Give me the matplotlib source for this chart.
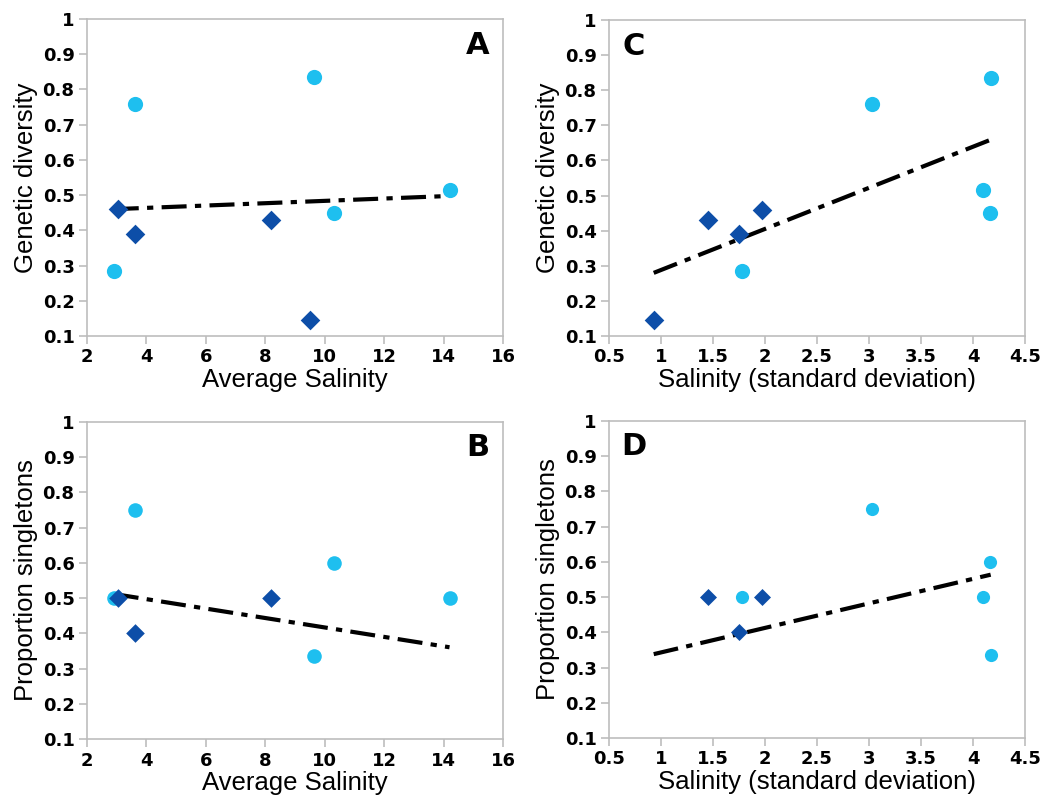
import matplotlib.pyplot as plt
import numpy as np

plt.rcParams['font.family'] = ['Liberation Sans', 'DejaVu Sans']

# sites shown as circles (cyan) and diamonds (dark blue)
circ_avg = [2.9, 3.6, 9.65, 10.3, 14.2]
circ_sd = [1.78, 3.03, 4.17, 4.16, 4.1]
circ_gd = [0.285, 0.76, 0.835, 0.45, 0.515]
circ_single = [0.5, 0.75, 0.335, 0.6, 0.5]

dia_avg = [3.05, 3.6, 8.2, 9.5]
dia_sd = [1.97, 1.75, 1.45, 0.93]
dia_gd = [0.46, 0.39, 0.43, 0.145]
# last site has no singletons (0, below the axis range)
dia_single = [0.5, 0.4, 0.5, 0.0]

yticks = [0.1, 0.2, 0.3, 0.4, 0.5, 0.6, 0.7, 0.8, 0.9, 1]
ytick_labels = ['0.1', '0.2', '0.3', '0.4', '0.5', '0.6', '0.7', '0.8', '0.9', '1']
avg_ticks = [2, 4, 6, 8, 10, 12, 14, 16]
sd_ticks = [0.5, 1, 1.5, 2, 2.5, 3, 3.5, 4, 4.5]
sd_labels = ['0.5', '1', '1.5', '2', '2.5', '3', '3.5', '4', '4.5']

CYAN = '#1ebfef'
NAVY = '#0d4ea8'
W, H = 1059, 799

fig = plt.figure(figsize=(W / 100, H / 100), dpi=100)


def panel(rect, xc, yc, xd, yd, xticks, xlabels, xlim, xlabel, ylabel, letter, lpos, sc, sd):
    l, t, r, b = rect
    ax = fig.add_axes([l / W, 1 - b / H, (r - l) / W, (b - t) / H])
    ax.set_xlim(xlim)
    ax.set_ylim(0.1, 1)
    # trend line through all sites
    x = np.array(xc + xd)
    y = np.array(yc + yd)
    k, c = np.polyfit(x, y, 1)
    xs = np.array([x.min(), x.max()])
    ax.plot(xs, k * xs + c, color='black', lw=3, dashes=(6.0, 2.0, 1.5, 2.0), zorder=2)
    ax.scatter(xc, yc, s=sc, color=CYAN, marker='o', linewidths=0, zorder=3)
    ax.scatter(xd, yd, s=sd, color=NAVY, marker='D', linewidths=0, zorder=3)
    ax.set_xticks(xticks)
    ax.set_xticklabels(xlabels)
    ax.set_yticks(yticks)
    ax.set_yticklabels(ytick_labels)
    for s in ax.spines.values():
        s.set_color('#bdbdbd')
        s.set_linewidth(1.2)
    ax.tick_params(direction='out', length=6, width=1.2, color='#bdbdbd', pad=3)
    for lab in ax.get_xticklabels() + ax.get_yticklabels():
        lab.set_family('DejaVu Sans')
        lab.set_fontweight('bold')
        lab.set_fontsize(13)
    ax.set_xlabel(xlabel, fontsize=18.5, labelpad=1)
    ax.set_ylabel(ylabel, fontsize=18.5, labelpad=3)
    ax.text(lpos[0], lpos[1], letter, transform=ax.transAxes, fontsize=22,
            family='DejaVu Sans', fontweight='bold', ha='center', va='center')
    return ax


panel((87, 19, 503, 336), circ_avg, circ_gd, dia_avg, dia_gd, avg_ticks, avg_ticks,
      (2, 16), 'Average Salinity', 'Genetic diversity', 'A', (0.94, 0.915), 120, 100)
panel((609, 20, 1025, 336), circ_sd, circ_gd, dia_sd, dia_gd, sd_ticks, sd_labels,
      (0.5, 4.5), 'Salinity (standard deviation)', 'Genetic diversity', 'C', (0.06, 0.915), 120, 100)
panel((87, 422, 503, 739), circ_avg, circ_single, dia_avg, dia_single, avg_ticks, avg_ticks,
      (2, 16), 'Average Salinity', 'Proportion singletons', 'B', (0.94, 0.92), 110, 90)
panel((609, 421, 1025, 738), circ_sd, circ_single, dia_sd, dia_single, sd_ticks, sd_labels,
      (0.5, 4.5), 'Salinity (standard deviation)', 'Proportion singletons', 'D', (0.06, 0.92), 90, 75)

fig.savefig('out.png', dpi=100)
